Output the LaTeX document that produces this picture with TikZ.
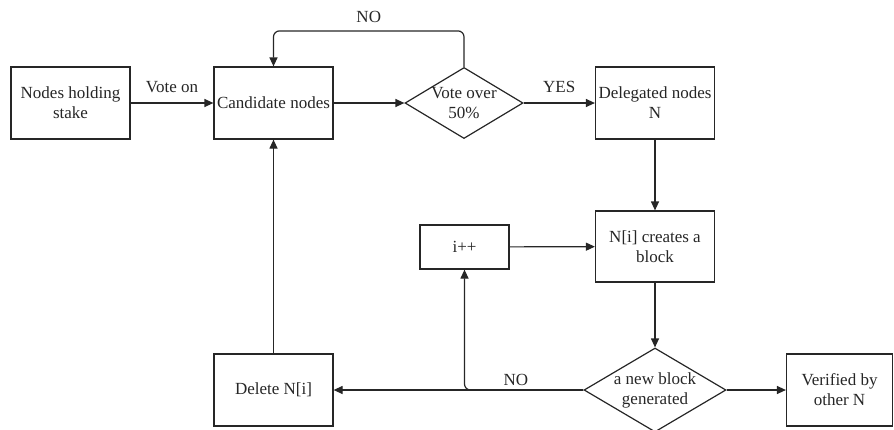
\documentclass[tikz,border=0pt]{standalone}
\usepackage{fontspec}
\setmainfont{Liberation Serif}
\usetikzlibrary{shapes.geometric, arrows.meta}

\begin{document}
\begin{tikzpicture}[x=1pt, y=-1pt, line width=1.2pt, color=black!85,
    font=\fontsize{17}{20}\selectfont,
    box/.style={draw, rectangle, minimum width=119pt, minimum height=72pt, align=center, inner sep=1pt},
    decision/.style={draw, diamond, minimum width=118pt, minimum height=71pt, inner sep=0pt},
    flow/.style={-{Triangle[length=9pt,width=8pt]}}]
    \useasboundingbox (0,0) rectangle (894,429);

    % Boxes
    \node[box] (stake) at (70.5,103) {Nodes holding\\stake};
    \node[box] (candidate) at (273.5,103) {Candidate nodes};
    \node[decision, label={[align=center]center:Vote over\\50\%}] (vote) at (464,103) {};
    \node[box] (delegated) at (655,103) {Delegated nodes\\N};
    \node[box, minimum height=71pt] (create) at (655,246.5) {N[i] creates a\\block};
    \node[box, minimum width=89pt, minimum height=44pt] (inc) at (464.5,247) {i++};
    \node[decision, minimum width=142pt, minimum height=84pt,
        label={[align=center]center:a new block\\generated}] (generated) at (655,390) {};
    \node[box, minimum width=106pt] (verified) at (839.5,390) {Verified by\\other N};
    \node[box] (delete) at (273.5,390) {Delete N[i]};

    % Top row
    \draw[flow] (stake) -- node[above=6pt] {Vote on} (candidate);
    \draw[flow] (candidate) -- (vote);
    \draw[flow, rounded corners=6pt] (vote.north) -- ++(0,-36) -| node[pos=0.25, above=4pt] {NO} (candidate.north);
    \draw[flow] (vote) -- node[above=6pt] {YES} (delegated);

    % Right column
    \draw[flow] (delegated) -- (create);
    \draw[flow] (create) -- (generated);
    \draw[flow] (generated) -- (verified);

    % Loops back
    \draw[flow] (generated) -- node[pos=0.27, above=0pt] {NO} (delete);
    \draw[flow, rounded corners=6pt] (generated.west) -| (inc.south);
    \draw[flow] (inc) -- (create);
    \draw[flow] (delete) -- (candidate);
\end{tikzpicture}
\end{document}
